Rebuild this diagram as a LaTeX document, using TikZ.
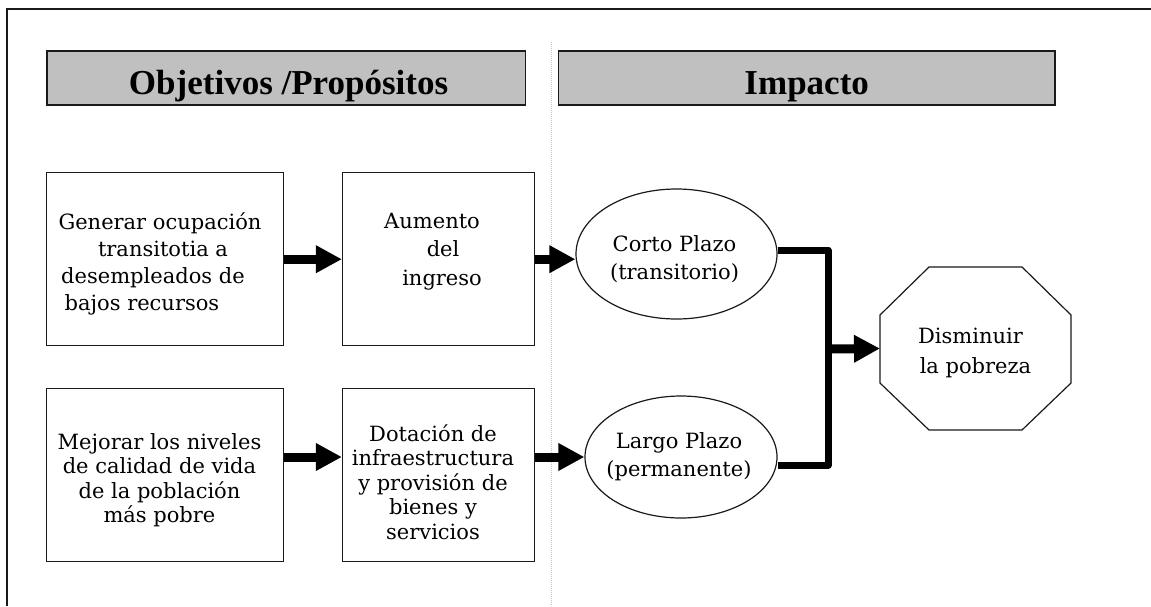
\documentclass[tikz,border=0pt]{standalone}
\usepackage{fontspec}
\setmainfont{DejaVu Serif}
\newfontfamily\hdrfont{Liberation Serif}
\usetikzlibrary{arrows.meta,shapes.geometric}
\definecolor{hdrgray}{HTML}{C0C0C0}
\definecolor{ink}{HTML}{1A1A1A}
\begin{document}
\begin{tikzpicture}[x=1pt,y=-1pt,
  box/.style={draw=ink, line width=1.2pt, rectangle, inner sep=0pt},
  ell/.style={draw=ink, line width=1.2pt, ellipse, inner sep=0pt},
  hdr/.style={draw=ink, line width=1.6pt, fill=hdrgray, rectangle, inner sep=0pt,
    minimum height=54pt, text height=32pt, text depth=0pt,
    font=\hdrfont\bfseries\fontsize{35}{40}\selectfont},
  txt/.style={inner sep=0pt, align=center},
  arr/.style={line width=9pt, -{Triangle[length=26pt,width=26pt]}},
  conn/.style={line width=7pt, line join=round}
]
\useasboundingbox (0,0) rectangle (1151,606);
\fill[white] (0,0) rectangle (1151,606);
% frame
\draw[line width=2pt, draw=ink] (7,606) -- (7,9) -- (1151,9);
% separator
\draw[gray!45, line width=0.9pt, dash pattern=on 1pt off 1pt] (551,42) -- (551,606);
% headers
\node[hdr, minimum width=478.8pt] (h1) at (286.1,78) {\kern5pt Objetivos /Propósitos};
\node[hdr, minimum width=496.6pt] (h2) at (806.7,78) {Impacto};
% boxes
\node[box, minimum width=236.5pt, minimum height=173pt] (b1) at (165,259.2) {};
\node[box, minimum width=192.1pt, minimum height=173pt] (b2) at (438.55,259.2) {};
\node[box, minimum width=236.5pt, minimum height=173.4pt] (b3) at (165,475) {};
\node[box, minimum width=192.1pt, minimum height=173.4pt] (b4) at (438.55,475) {};
\node[txt, font=\fontsize{21}{27.2}\selectfont] (t1) at (165,264)
  {Generar ocupación\kern10pt\\transitotia a\kern4pt\\desempleados de\kern24pt\\bajos recursos\kern46pt};
\node[txt, font=\fontsize{21}{28.3}\selectfont] (t2) at (438.55,251.5)
  {Aumento\kern13pt\\\kern9pt del\\\kern7pt ingreso};
\node[txt, font=\fontsize{21}{24.5}\selectfont] (t3) at (159.5,480)
  {Mejorar los niveles\\de calidad de vida\\de la población\\más pobre};
\node[txt, font=\fontsize{21}{24.6}\selectfont] (t4) at (433,482)
  {Dotación de\\infraestructura\\y provisión de\\bienes y\\servicios};
% ellipses
\node[ell, minimum width=201pt, minimum height=130pt] (e1) at (676.5,254) {};
\node[ell, minimum width=192pt, minimum height=122pt] (e2) at (681,457) {};
\node[txt, font=\fontsize{21}{28}\selectfont] (t5) at (674.5,259) {Corto Plazo\\(transitorio)};
\node[txt, font=\fontsize{21}{28}\selectfont] (t6) at (679,457) {Largo Plazo\\(permanente)};
% octagon
\draw[draw=ink, line width=1.2pt] (880,315) -- (929,267) -- (1022,267) -- (1071,315)
  -- (1071,383) -- (1022,430) -- (929,430) -- (880,383) -- cycle;
\node[txt, font=\fontsize{21}{30}\selectfont] (oct) at (975.5,353) {Disminuir\kern10pt\\la pobreza};
\coordinate (octw) at (880,348.5);
% junction
\coordinate (jt) at (828,250);
\coordinate (jb) at (828,465);
\coordinate (jm) at (828,349);
% arrows
\draw[arr] (b1.east) -- (b2.west);
\draw[arr] (b2.east) -- (b2.east -| e1.west);
\draw[arr] (b3.east |- e2.west) -- (b4.west |- e2.west);
\draw[arr] (b4.east |- e2.west) -- (e2.west);
\draw[conn] ([yshift=4pt]e1.east) -- (jt) -- (jb) -- ([yshift=-8pt]e2.east);
\draw[arr] (jm) -- (octw);
\end{tikzpicture}
\end{document}
